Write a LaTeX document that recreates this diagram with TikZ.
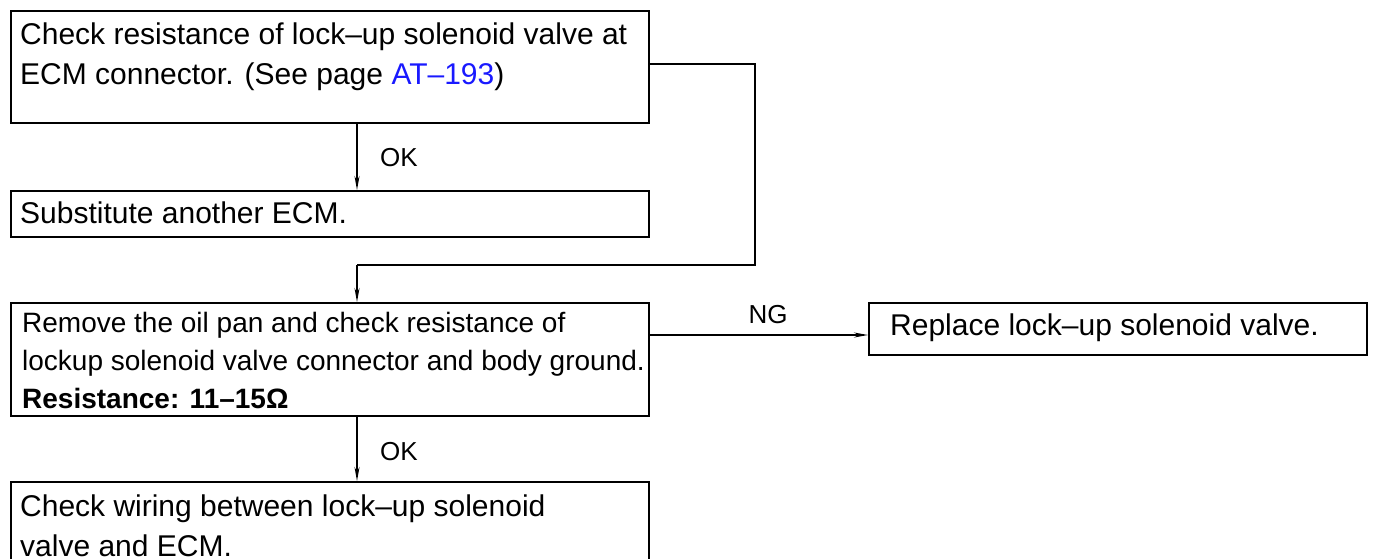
\documentclass[tikz,border=0pt]{standalone}
\usepackage{fontspec}
\setmainfont{Liberation Sans}
\usetikzlibrary{arrows.meta}
\definecolor{linkblue}{RGB}{25,25,255}
\begin{document}
\begin{tikzpicture}[x=1pt,y=-1pt,
  box/.style={draw, line width=2pt, inner sep=0pt, anchor=north west},
  txt/.style={anchor=west, inner sep=0pt, align=left, font=\fontsize{30}{40}\selectfont},
  txtn/.style={anchor=west, inner sep=0pt, align=left, font=\fontsize{28}{38}\selectfont},
  flow/.style={line width=1.4pt, -{Stealth[length=14pt,width=5pt]}},
  seg/.style={line width=1.8pt},
  lbl/.style={inner sep=0pt, font=\fontsize{26}{30}\selectfont}]
\useasboundingbox (0,0) rectangle (1377,558);
% boxes
\node[box, minimum width=638pt, minimum height=112pt] (b1) at (10,10) {};
\node[box, minimum width=638pt, minimum height=46pt] (b2) at (10,190) {};
\node[box, minimum width=638pt, minimum height=113pt] (b3) at (10,302) {};
\node[box, minimum width=498pt, minimum height=52pt] (b4) at (868,302) {};
\node[box, minimum width=638pt, minimum height=80pt] (b5) at (10,481) {};
% texts
\node[txt] (t1) at (20,57) {Check resistance of lock--up solenoid valve at\\ECM connector. (See page \textcolor{linkblue}{AT--193})};
\node[txt] (t2) at (20,213) {Substitute another ECM.};
\node[txtn] (t3) at (22,360) {Remove the oil pan and check resistance of\\lockup solenoid valve connector and body ground.\\\textbf{Resistance: 11--15Ω}};
\node[txt] (t4) at (890,328) {Replace lock--up solenoid valve.};
\node[txt] (t5) at (20,526) {Check wiring between lock--up solenoid\\valve and ECM.};
% coordinates
\coordinate (ax) at (357,0);
\coordinate (r1) at (755,64);
\coordinate (r2) at (755,265);
\coordinate (r3) at (357,265);
\coordinate (ng) at (0,335);
% connectors
\draw[flow] (b1.south -| ax) -- (b2.north -| ax);
\draw[seg] (b1.east |- r1) -- (r1) -- (r2) -- (r3);
\draw[flow] (r3) -- (b3.north -| ax);
\draw[flow] (b3.east |- ng) -- (b4.west |- ng);
\draw[flow] (b3.south -| ax) -- (b5.north -| ax);
% labels
\node[lbl, anchor=west] (ok1) at (380,158) {OK};
\node[lbl, anchor=west] (ok2) at (380,452) {OK};
\node[lbl] (ngl) at (768,315) {NG};
\end{tikzpicture}
\end{document}
